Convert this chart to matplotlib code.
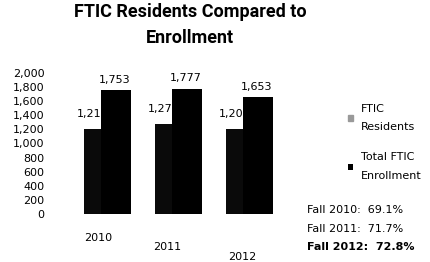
import numpy as np
import matplotlib.pyplot as plt

years = ["2010", "2011", "2012"]
residents = [1211, 1274, 1204]
enrollment = [1753, 1777, 1653]
pct_labels = ["Fall 2010:  69.1%", "Fall 2011:  71.7%", "Fall 2012:  72.8%"]

W, H = 430, 262
fig = plt.figure(figsize=(W / 100, H / 100), dpi=100)
fig.patch.set_facecolor("white")

# axes: x 60..290 px, y 73..214 px (2000..0)
ax = fig.add_axes([60 / W, 1 - 214 / H, 230 / W, 141 / H])
x = np.arange(len(years))

b1 = ax.bar(x - 0.16, residents, width=0.25, color="#0a0a0a", zorder=2,
            label="FTIC\nResidents")
b2 = ax.bar(x + 0.17, enrollment, width=0.42, color="black", zorder=3,
            label="Total FTIC\nEnrollment")

for xi, v in zip(x - 0.16, residents):
    ax.annotate(f"{v:,}", (xi, v), xytext=(0, 7), textcoords="offset points",
                ha="center", va="bottom", fontsize=8, zorder=1)
for xi, v in zip(x + 0.15, enrollment):
    ax.annotate(f"{v:,}", (xi, v), xytext=(0, 4), textcoords="offset points",
                ha="center", va="bottom", fontsize=8, zorder=4)

ax.set_ylim(0, 2000)
ax.set_xlim(-0.618, 2.62)
ax.set_yticks(range(0, 2001, 200))
ax.set_yticklabels([f"{t:,}" for t in range(0, 2001, 200)], fontsize=8)
ax.tick_params(axis="y", length=0, pad=11)
ax.set_xticks([])
for s in ax.spines.values():
    s.set_visible(False)

# year labels, staggered like the 3D perspective
for yr, px, py in zip(years, [98, 167, 242], [238, 247, 257]):
    fig.text(px / W, 1 - py / H, yr, ha="center", va="center", fontsize=8)

fig.text(190 / W, 1 - 12 / H, "FTIC Residents Compared to",
         ha="center", va="center", fontsize=13, fontweight="bold",
         family="Roboto")
fig.text(190 / W, 1 - 38 / H, "Enrollment",
         ha="center", va="center", fontsize=13, fontweight="bold",
         family="Roboto")

leg = ax.legend(handles=[b1, b2], loc="upper left",
                bbox_to_anchor=(348 / W, 1 - 104 / H),
                bbox_transform=fig.transFigure, frameon=False, fontsize=8,
                handlelength=0.45, handleheight=0.45, handletextpad=0.7,
                labelspacing=1.8, borderpad=0, borderaxespad=0)
for t in leg.get_texts():
    t.set_linespacing(2.05)
leg.legend_handles[0].set_color("#999999")

for i, t in enumerate(pct_labels):
    fig.text(307 / W, 1 - (210 + 18.5 * i) / H, t, ha="left", va="center",
             fontsize=8, fontweight="bold" if i == 2 else "normal")

fig.savefig("out.png", dpi=100)
